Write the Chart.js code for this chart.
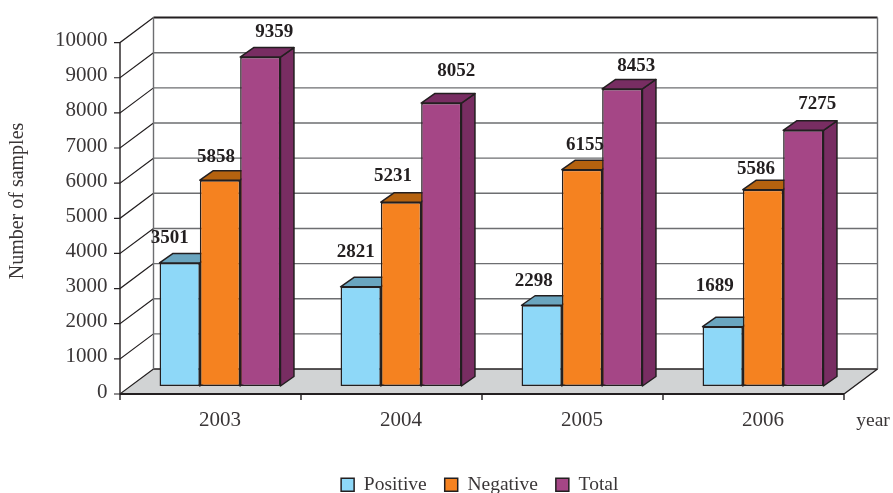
<!DOCTYPE html>
<html>
<head>
<meta charset="utf-8">
<script src="https://cdn.jsdelivr.net/npm/chart.js@4"></script>
<style>
html, body { margin: 0; padding: 0; background: #fff; }
canvas { display: block; }
</style>
</head>
<body>
<canvas id="chart" width="893" height="493"></canvas>
<script>
const years = ["2003", "2004", "2005", "2006"]
const positive = [3501, 2821, 2298, 1689]
const negative = [5858, 5231, 6155, 5586]
const total = [9359, 8052, 8453, 7275]

// nudges of the value labels from the top centre of each bar
const labelDx = [[-10, -5, -8, -8], [-4, -8, 3, -7], [14, 15, 14, 14]]
const labelDy = [[-25, -35, -24, -41], [-23, -26, -25, -21], [-25, -32, -23, -26]]

const ink = "#231f20"
const serif = "'Liberation Serif', serif"
const textColor = "#3a3637"

// wall and floor are offset from the plane the bars stand on
const front = { x: -9.5, y: 8 }
const back = { x: 24, y: -17 }
const barDepth = { x: 13.5, y: 9.5 }

const room = {
       id: "room",
       beforeDatasetsDraw(chart) {
              const { ctx, scales } = chart
              const xs = scales.x, ys = scales.y
              const left = xs.getPixelForValue(-0.5), right = xs.getPixelForValue(years.length - 0.5)
              const zero = ys.getPixelForValue(0), maxY = ys.getPixelForValue(10000)

              ctx.save()
              // floor
              ctx.fillStyle = "#d1d3d4"
              ctx.beginPath()
              ctx.moveTo(left + front.x, zero + front.y)
              ctx.lineTo(right + front.x, zero + front.y)
              ctx.lineTo(right + back.x, zero + back.y)
              ctx.lineTo(left + back.x, zero + back.y)
              ctx.closePath()
              ctx.fill()

              // back wall grid and left wall diagonals
              ys.ticks.forEach(t => {
                     const y = ys.getPixelForValue(t.value)
                     ctx.strokeStyle = t.value === 10000 ? ink : (t.value === 0 ? ink : "#6d6e71")
                     ctx.lineWidth = t.value === 10000 ? 2 : 1.4
                     ctx.beginPath()
                     ctx.moveTo(left + back.x, y + back.y)
                     ctx.lineTo(right + back.x, y + back.y)
                     ctx.stroke()

                     ctx.strokeStyle = ink
                     ctx.lineWidth = 1.2
                     ctx.beginPath()
                     ctx.moveTo(left + front.x - 6, y + front.y)
                     ctx.lineTo(left + front.x, y + front.y)
                     ctx.lineTo(left + back.x, y + back.y)
                     ctx.stroke()
              })

              // wall uprights
              ctx.strokeStyle = "#6d6e71"
              ctx.lineWidth = 1.4
              ctx.beginPath()
              ctx.moveTo(left + back.x, maxY + back.y)
              ctx.lineTo(left + back.x, zero + back.y)
              ctx.moveTo(right + back.x, maxY + back.y)
              ctx.lineTo(right + back.x, zero + back.y)
              ctx.stroke()

              // front axes
              ctx.strokeStyle = ink
              ctx.lineWidth = 1.4
              ctx.beginPath()
              ctx.moveTo(left + front.x, maxY + front.y)
              ctx.lineTo(left + front.x, zero + front.y)
              ctx.moveTo(right + front.x, zero + front.y)
              ctx.lineTo(right + back.x, zero + back.y)
              for (let i = 0; i <= years.length; i++) {
                     const x = xs.getPixelForValue(i - 0.5) + front.x
                     ctx.moveTo(x, zero + front.y)
                     ctx.lineTo(x, zero + front.y + 6)
              }
              ctx.stroke()
              ctx.lineWidth = 2
              ctx.beginPath()
              ctx.moveTo(left + front.x, zero + front.y)
              ctx.lineTo(right + front.x, zero + front.y)
              ctx.stroke()
              ctx.restore()

              drawBarFaces(chart)
       }
}

// tops and sides go in first, the fronts of the bars then cover what they should
function drawBarFaces(chart) {
       const { ctx } = chart
       ctx.save()
       ctx.strokeStyle = ink
       ctx.lineWidth = 1.5
       ctx.lineJoin = "round"
       chart.data.datasets.forEach((ds, s) => {
              chart.getDatasetMeta(s).data.forEach(bar => {
                     const l = bar.x - bar.width / 2, r = bar.x + bar.width / 2
                     ctx.fillStyle = ds.sideColor
                     ctx.beginPath()
                     ctx.moveTo(r, bar.y)
                     ctx.lineTo(r + barDepth.x, bar.y - barDepth.y)
                     ctx.lineTo(r + barDepth.x, bar.base - barDepth.y)
                     ctx.lineTo(r, bar.base)
                     ctx.closePath()
                     ctx.fill()
                     ctx.stroke()

                     ctx.fillStyle = ds.topColor
                     ctx.beginPath()
                     ctx.moveTo(l, bar.y)
                     ctx.lineTo(l + barDepth.x, bar.y - barDepth.y)
                     ctx.lineTo(r + barDepth.x, bar.y - barDepth.y)
                     ctx.lineTo(r, bar.y)
                     ctx.closePath()
                     ctx.fill()
                     ctx.stroke()
              })
       })
       ctx.restore()
}

const texts = {
       id: "texts",
       afterDatasetsDraw(chart) {
              const { ctx } = chart
              ctx.save()
              ctx.textAlign = "center"
              ctx.textBaseline = "middle"
              ctx.fillStyle = ink
              ctx.font = "bold 19px " + serif
              chart.data.datasets.forEach((ds, s) => {
                     chart.getDatasetMeta(s).data.forEach((bar, i) => {
                            ctx.fillText(ds.data[i], bar.x + labelDx[s][i], bar.y + labelDy[s][i])
                     })
              })

              ctx.fillStyle = textColor
              ctx.font = "19.5px " + serif
              ctx.fillText("year", 873, 421)

              ctx.font = "20px " + serif
              ctx.translate(18, 201)
              ctx.rotate(-Math.PI / 2)
              ctx.fillText("Number of samples", 0, 0)
              ctx.restore()
       },
       afterLayout(chart) {
              const legend = chart.legend
              legend.left += 53
              legend.right += 53
              legend.top = 457
              legend.bottom = 493
       }
}

new Chart(document.getElementById("chart"), {
       type: "bar",
       data: {
              labels: years,
              datasets: [
                     { label: "Positive", data: positive, backgroundColor: "#8ed8f8", topColor: "#6aa5bf", sideColor: "#5c97b1", borderColor: ink, borderWidth: 1.5, borderSkipped: false },
                     { label: "Negative", data: negative, backgroundColor: "#f58220", topColor: "#b5620f", sideColor: "#a85a10", borderColor: ink, borderWidth: 1.5, borderSkipped: false },
                     { label: "Total", data: total, backgroundColor: "#a54686", topColor: "#782d62", sideColor: "#782d62", borderColor: ink, borderWidth: 1.5, borderSkipped: false }
              ]
       },
       plugins: [room, texts],
       options: {
              responsive: false,
              animation: false,
              barPercentage: 1,
              categoryPercentage: 0.668,
              layout: { padding: { left: 0, right: 39.5, top: 32, bottom: 0 } },
              plugins: {
                     tooltip: { enabled: false },
                     legend: {
                            position: "bottom",
                            labels: {
                                   boxWidth: 13,
                                   boxHeight: 13,
                                   padding: 18,
                                   color: textColor,
                                   font: { family: serif, size: 19.5 }
                            }
                     }
              },
              scales: {
                     x: {
                            grid: { display: false, drawTicks: false },
                            border: { display: false },
                            ticks: { padding: 22, color: textColor, font: { family: serif, size: 21 } },
                            afterFit(scale) { scale.height = 493 - 386 - scale.chart.legend.height }
                     },
                     y: {
                            min: 0,
                            max: 10000,
                            grid: { display: false, drawTicks: false },
                            border: { display: false },
                            ticks: { stepSize: 1000, autoSkip: false, padding: 22, labelOffset: 6, color: textColor, font: { family: serif, size: 21 }, callback: v => String(v) },
                            afterFit(scale) { scale.width = 129.5 }
                     }
              }
       }
})
</script>
</body>
</html>
